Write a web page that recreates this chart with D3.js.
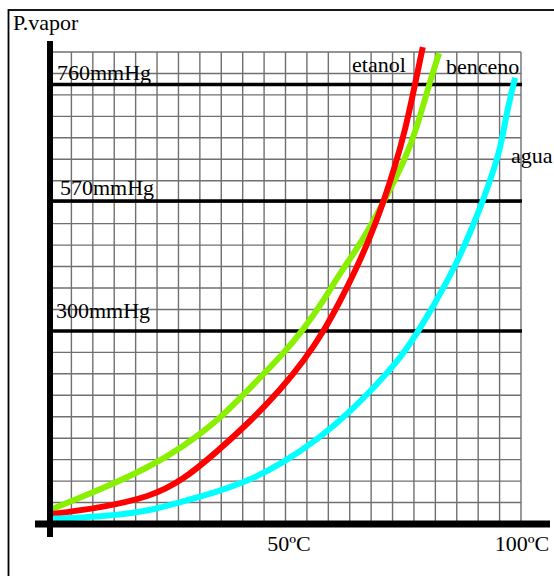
<!DOCTYPE html>
<html>
<head>
<meta charset="utf-8">
<script src="https://cdn.jsdelivr.net/npm/d3@7"></script>
<style>
  html, body { margin: 0; padding: 0; background: #fff; }
  svg { display: block; }
  text { font-family: "Liberation Serif", "DejaVu Serif", serif; fill: #000; }
</style>
</head>
<body>
<svg id="chart" width="554" height="576"></svg>
<script>
// ---- data (temperature °C, vapour pressure mmHg) ----
const aguaT    = [0, 10.7, 21.5, 29.4, 35.8, 42.9, 50, 57.3, 64.4, 75.1, 79, 82.2, 86.9, 90.1, 92.9, 94.8, 96.6, 98.1, 99.8];
const aguaP    = [8, 11, 20, 37, 50, 68, 95, 131, 173, 255, 300, 350, 433, 503, 570, 612, 653, 718, 771];
const etanolT  = [0, 10.7, 21.5, 28.5, 35.8, 42.9, 49.4, 54.7, 58.6, 62.4, 65.9, 68.7, 71.5, 74, 76.4, 78.3, 80];
const etanolP  = [15, 25, 42, 68, 112, 159, 208, 256, 298, 364, 433, 495, 566, 625, 691, 759, 821];
const bencenoT = [0, 10.7, 21.5, 28.5, 35.8, 42.9, 50, 54.3, 58.8, 62.2, 67.2, 71.5, 76.2, 78.8, 81.3, 83.5];
const bencenoP = [22, 53, 89, 120, 159, 211, 264, 302, 364, 420, 489, 566, 637, 691, 759, 811];

const refPressures = [760, 570, 300];          // horizontal reference lines
const tempTicks    = [50, 100];                // x tick labels
const seriesNames  = ["benceno", "etanol", "agua"];
const yTitle = "P.vapor";

// ---- layout / style (not data) ----
const colors = { agua: "#00ffff", etanol: "#ff0000", benceno: "#88f000" };
const labelPos = {
  etanol:  { x: 352, y: 72 },
  benceno: { x: 446, y: 74 },
  agua:    { x: 511, y: 163 }
};
const refLabelDx = { 760: 57, 570: 60, 300: 56 };
const refLabelDy = { 760: -5, 570: -6, 300: -13 };
const FONT = 22;

const svg = d3.select("#chart");

// scales
const x = d3.scaleLinear().domain([0, 100]).range([50, 516]);
// schematic (hand drawn) pressure axis: piecewise linear
const y = d3.scaleLinear().domain([0, 300, 570, 760]).range([524, 331, 201, 84.5]);
// background graph-paper grid
const gx = d3.scaleLinear().domain([0, 22]).range([50, 521]);
const gy = d3.scaleLinear().domain([0, 22]).range([524, 52]);

// outer frame
svg.append("rect")
  .attr("x", 8.5).attr("y", 10)
  .attr("width", 620).attr("height", 620)
  .attr("fill", "none").attr("stroke", "#000").attr("stroke-width", 1.8);

// grid
const grid = svg.append("g").attr("stroke", "#707070").attr("stroke-width", 1.4);
grid.selectAll("line.v").data(d3.range(1, 23)).join("line")
  .attr("class", "v")
  .attr("x1", d => gx(d)).attr("x2", d => gx(d))
  .attr("y1", gy(22)).attr("y2", gy(0));
grid.selectAll("line.h").data(d3.range(1, 23)).join("line")
  .attr("class", "h")
  .attr("x1", gx(0)).attr("x2", gx(22))
  .attr("y1", d => gy(d)).attr("y2", d => gy(d));

// reference pressure lines
svg.append("g").selectAll("line").data(refPressures).join("line")
  .attr("x1", gx(0)).attr("x2", gx(22) + 1)
  .attr("y1", d => y(d)).attr("y2", d => y(d))
  .attr("stroke", "#000").attr("stroke-width", 3.5);

svg.append("g").selectAll("text").data(refPressures).join("text")
  .attr("x", d => refLabelDx[d])
  .attr("y", d => y(d) + refLabelDy[d])
  .attr("font-size", FONT)
  .text(d => d + "mmHg");

// curves
const series = {
  agua:    aguaT.map((t, i) => [t, aguaP[i]]),
  etanol:  etanolT.map((t, i) => [t, etanolP[i]]),
  benceno: bencenoT.map((t, i) => [t, bencenoP[i]])
};
const line = d3.line()
  .x(d => x(d[0]))
  .y(d => y(d[1]))
  .curve(d3.curveBasis);

svg.append("g").selectAll("path").data(seriesNames).join("path")
  .attr("d", n => line(series[n]))
  .attr("fill", "none")
  .attr("stroke", n => colors[n])
  .attr("stroke-width", 6);

svg.append("g").selectAll("text").data(seriesNames).join("text")
  .attr("x", n => labelPos[n].x)
  .attr("y", n => labelPos[n].y)
  .attr("font-size", FONT)
  .text(n => n);

// axes (thick black bars)
svg.append("line")
  .attr("x1", 50).attr("x2", 50)
  .attr("y1", 41).attr("y2", 537)
  .attr("stroke", "#000").attr("stroke-width", 6);
svg.append("line")
  .attr("x1", 35).attr("x2", 550)
  .attr("y1", y(0)).attr("y2", y(0))
  .attr("stroke", "#000").attr("stroke-width", 7);

// axis labels
svg.append("text")
  .attr("x", 13).attr("y", 30)
  .attr("font-size", FONT)
  .text(yTitle);

svg.append("g").selectAll("text").data(tempTicks).join("text")
  .attr("x", d => x(d) + 6)
  .attr("y", 551)
  .attr("text-anchor", "middle")
  .attr("font-size", FONT)
  .text(d => d + "ºC");
</script>
</body>
</html>
